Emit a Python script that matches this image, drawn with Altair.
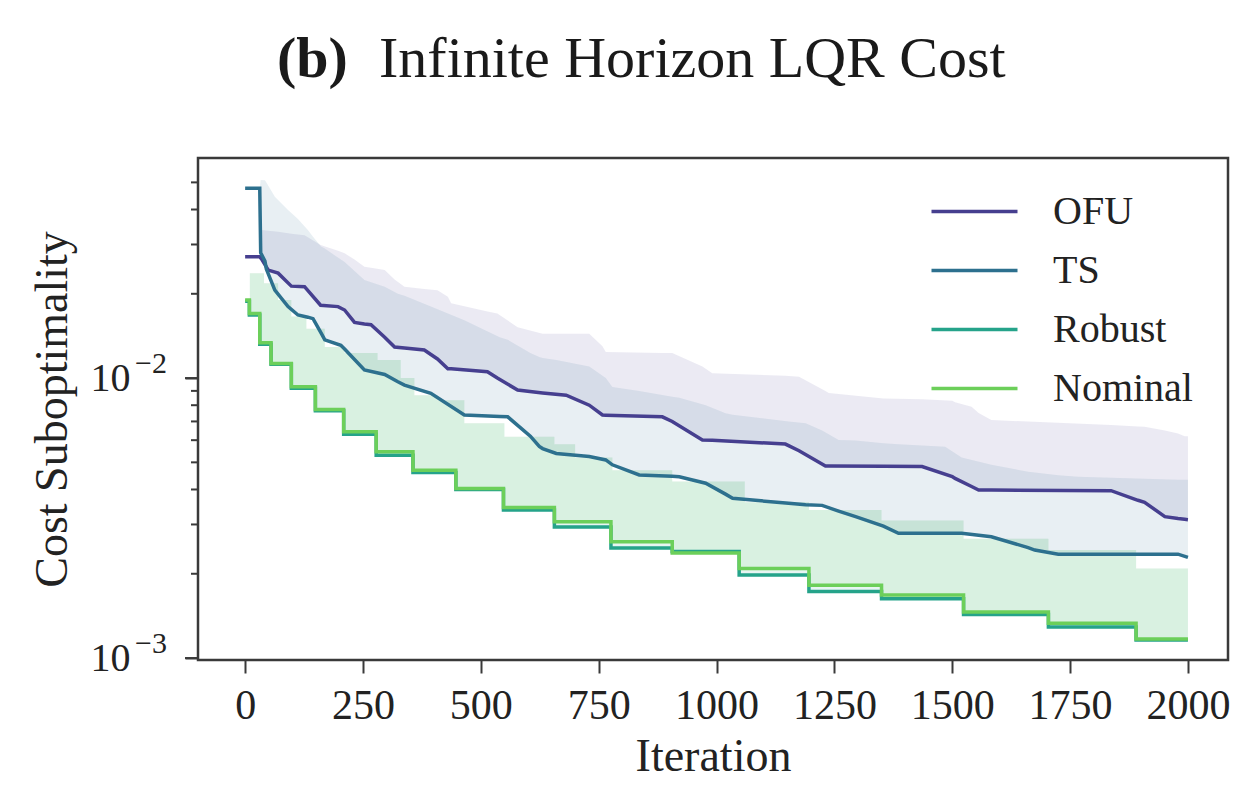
import altair as alt
import pandas as pd

# ---- series names and colours -------------------------------------------
METHODS = ["OFU", "TS", "Robust", "Nominal"]
COLORS = ["#463f8f", "#2d708e", "#25a38a", "#6ccf5a"]

# ---- OFU: median cost suboptimality and upper quantile -------------------
OFU_IT = [0, 31, 35, 49, 70, 98, 126, 160, 197, 211, 232, 253, 267, 296, 317,
          338, 380, 408, 430, 437, 514, 535, 578, 631, 681, 730, 758, 765, 885,
          906, 970, 991, 1146, 1175, 1231, 1238, 1354, 1436, 1500, 1506, 1541,
          1556, 1583, 1837, 1894, 1908, 1951, 1979, 1993, 2000]
OFU_MED = [0.0271, 0.0271, 0.0266, 0.0243, 0.0237, 0.0213, 0.0212, 0.0182,
           0.0180, 0.0175, 0.0158, 0.0156, 0.0155, 0.0140, 0.0129, 0.0128,
           0.0126, 0.0117, 0.0108, 0.0108, 0.01054, 0.0100, 0.00906, 0.00885,
           0.00869, 0.0080, 0.00738, 0.00737, 0.00727, 0.0070, 0.00601, 0.0060,
           0.00581, 0.0055, 0.00485, 0.00485, 0.00484, 0.00483, 0.00445,
           0.00438, 0.0041, 0.00398, 0.00398, 0.00396, 0.00366, 0.0036,
           0.0032, 0.00315, 0.00313, 0.00312]
OFU_HI = [0.0271, 0.0271, 0.0338, 0.0336, 0.0333, 0.0328, 0.0324, 0.0299,
          0.0285, 0.0279, 0.0265, 0.0250, 0.0248, 0.0243, 0.0225, 0.0212,
          0.0208, 0.0206, 0.0195, 0.0185, 0.0173, 0.0170, 0.0152, 0.0144,
          0.0144, 0.0144, 0.0130, 0.0124, 0.0123, 0.0123, 0.0110, 0.0104,
          0.0102, 0.0101, 0.0090, 0.00884, 0.00846, 0.0084, 0.0083, 0.0082,
          0.0079, 0.0075, 0.00708, 0.0068, 0.00672, 0.0067, 0.0065, 0.00634,
          0.0062, 0.0062]

# ---- TS: median cost suboptimality and upper quantile --------------------
TS_IT = [0, 31, 33, 42, 45, 63, 91, 112, 133, 144, 161, 169, 203, 211, 253,
         296, 324, 338, 394, 465, 540, 557, 605, 624, 631, 660, 730, 765, 779,
         836, 906, 921, 977, 1019, 1034, 1153, 1189, 1224, 1259, 1295, 1354,
         1386, 1485, 1520, 1583, 1661, 1675, 1725, 1767, 1979, 2000]
TS_MED = [0.0476, 0.0476, 0.0280, 0.0262, 0.0245, 0.0206, 0.0180, 0.0168,
          0.0165, 0.0163, 0.0145, 0.0137, 0.0131, 0.0127, 0.0107, 0.0103,
          0.0097, 0.00944, 0.00882, 0.00738, 0.00729, 0.00727, 0.0062, 0.0057,
          0.0056, 0.00538, 0.00525, 0.0051, 0.0049, 0.00451, 0.00446, 0.00444,
          0.00421, 0.00385, 0.00372, 0.00357, 0.00353, 0.00351, 0.00335,
          0.0032, 0.00296, 0.00279, 0.00279, 0.00279, 0.00271, 0.00248,
          0.00243, 0.00235, 0.00235, 0.00235, 0.00229]
TS_HI = [0.0476, 0.0476, 0.0510, 0.0509, 0.0500, 0.0444, 0.0398, 0.0370,
         0.0338, 0.0320, 0.0295, 0.0290, 0.0265, 0.0260, 0.0224, 0.0212,
         0.0200, 0.0197, 0.0180, 0.0161, 0.0140, 0.0137, 0.0123, 0.0119,
         0.0118, 0.0116, 0.0110, 0.0100, 0.0093, 0.0090, 0.00858, 0.0085,
         0.0080, 0.00748, 0.0074, 0.0070, 0.00689, 0.0065, 0.00601, 0.00598,
         0.00585, 0.0058, 0.00569, 0.0052, 0.0049, 0.00463, 0.0046, 0.0045,
         0.00444, 0.00433, 0.00433]

# ---- Robust / Nominal: piecewise-constant costs and shared upper quantile -
STEP_IT = [0, 9, 10, 31, 40, 55, 70, 98, 130, 149, 169, 209, 211, 278, 281,
           330, 356, 359, 408, 447, 465, 548, 550, 656, 700, 776, 779, 906,
           1048, 1060, 1196, 1350, 1524, 1704, 1890, 2000]
NOMINAL_MED = [0.0190, 0.0170, 0.0170, 0.01337, 0.01337, 0.01128, 0.01128,
               0.00931, 0.00931, 0.00773, 0.00773, 0.00643, 0.00643, 0.00546,
               0.00546, 0.00546, 0.00469, 0.00469, 0.00469, 0.00403, 0.00403,
               0.00345, 0.00345, 0.00307, 0.00307, 0.0026, 0.0026, 0.00237,
               0.00209, 0.00209, 0.00182, 0.00168, 0.00146, 0.00133, 0.00117,
               0.00117]
ROBUST_MED = [0.0188, 0.0168, 0.0168, 0.0132, 0.0132, 0.0112, 0.0112, 0.0092,
              0.0092, 0.00765, 0.00765, 0.0063, 0.0063, 0.0053, 0.0053, 0.0053,
              0.0046, 0.0046, 0.0046, 0.0040, 0.0040, 0.00338, 0.00338,
              0.00294, 0.00294, 0.00247, 0.00247, 0.0024, 0.00198, 0.00198,
              0.00173, 0.00163, 0.00143, 0.00129, 0.00116, 0.00116]
STEP_HI = [0.0190, 0.0190, 0.0237, 0.0237, 0.0218, 0.0218, 0.0190, 0.0166,
           0.0150, 0.0150, 0.0129, 0.0129, 0.0123, 0.0123, 0.0116, 0.0100,
           0.0100, 0.00869, 0.00834, 0.00834, 0.00689, 0.00689, 0.00617,
           0.0058, 0.0052, 0.0052, 0.00469, 0.00427, 0.00427, 0.0036, 0.00338,
           0.0031, 0.00267, 0.00243, 0.00209, 0.00209]

# ---- axis ticks -----------------------------------------------------------
X_TICKS = [0, 250, 500, 750, 1000, 1250, 1500, 1750, 2000]
Y_MAJOR = [0.001, 0.01]
Y_EXPONENTS = ["−3", "−2"]
Y_MINOR = [0.002, 0.003, 0.004, 0.005, 0.006, 0.007, 0.008, 0.009,
           0.02, 0.03, 0.04, 0.05]
TITLE_PARTS = ["(b)", "Infinite Horizon LQR Cost"]


def table(method, its, med, hi):
    return pd.DataFrame({"Iteration": its, "Cost": med, "Upper": hi,
                         "Method": method})


smooth = pd.concat([table("OFU", OFU_IT, OFU_MED, OFU_HI),
                    table("TS", TS_IT, TS_MED, TS_HI)])
steps = pd.concat([table("Robust", STEP_IT, ROBUST_MED, STEP_HI),
                   table("Nominal", STEP_IT, NOMINAL_MED, STEP_HI)])
exponents = pd.DataFrame({"Cost": Y_MAJOR, "Exp": Y_EXPONENTS})
major_ticks = pd.DataFrame({"Cost": Y_MAJOR})
minor_ticks = pd.DataFrame({"Cost": Y_MINOR})

FONT = "Liberation Serif"
INK = "#3a3a3a"
TEXT = "#222222"

x_scale = alt.Scale(domain=[-100, 2085], nice=False, zero=False)
y_scale = alt.Scale(type="log", domain=[0.000984, 0.0611], nice=False)

x_enc = alt.X("Iteration:Q", scale=x_scale,
              axis=alt.Axis(values=X_TICKS, title="Iteration", format="d",
                            labelFontSize=42, titleFontSize=46,
                            labelPadding=12, titlePadding=8, tickSize=13))

# decade labels with the mantissa "10" and the axis title
y_enc = alt.Y("Cost:Q", scale=y_scale,
              axis=alt.Axis(values=Y_MAJOR, title="Cost Suboptimality",
                            labelExpr="'10'", tickSize=13,
                            labelFontSize=40, titleFontSize=46,
                            labelPadding=55, titlePadding=14, orient="left"))

color = alt.Color("Method:N", scale=alt.Scale(domain=METHODS, range=COLORS),
                  legend=alt.Legend(title=None, orient="none", legendX=753,
                                    legendY=30, symbolType="M-2,0H2",
                                    symbolSize=1849, symbolStrokeWidth=3.5,
                                    labelFont=FONT, labelFontSize=40,
                                    labelColor=TEXT, labelOffset=55,
                                    rowPadding=15, labelLimit=0))

# shaded spread between each median and its upper quantile
bands = []
for name, col in zip(METHODS, COLORS):
    src = smooth if name in ("OFU", "TS") else steps
    interp = "linear" if name in ("OFU", "TS") else "step-after"
    bands.append(
        alt.Chart(src).transform_filter(alt.datum.Method == name)
        .mark_area(opacity=0.11, color=col, interpolate=interp)
        .encode(x=x_enc, y=y_enc, y2="Upper:Q")
    )

line_smooth = alt.Chart(smooth).mark_line(strokeWidth=3.5).encode(
    x=x_enc, y=y_enc, color=color)
line_steps = alt.Chart(steps).mark_line(strokeWidth=3.5, interpolate="step-after").encode(
    x=x_enc, y=y_enc, color=color)

# major and minor ticks of the log axis, just outside the frame
major = alt.Chart(major_ticks).mark_rule(color=INK, strokeWidth=2).encode(
    x=alt.value(-13), x2=alt.value(0), y=y_enc)
minor = alt.Chart(minor_ticks).mark_rule(color=INK, strokeWidth=2).encode(
    x=alt.value(-7), x2=alt.value(0), y=y_enc)

# raised exponents beside the "10" decade labels
exp_text = alt.Chart(exponents).mark_text(
    font=FONT, fontSize=30, align="right", baseline="middle", dy=-14,
    color=TEXT).encode(x=alt.value(-31), y=y_enc, text="Exp:N")

title_b = alt.Chart(alt.Data(values=[{"t": TITLE_PARTS[0]}])).mark_text(
    font=FONT, fontSize=58, fontWeight="bold", align="left",
    baseline="alphabetic", color="#1a1a1a").encode(
    text="t:N", x=alt.value(79), y=alt.value(-81))
title_main = alt.Chart(alt.Data(values=[{"t": TITLE_PARTS[1]}])).mark_text(
    font=FONT, fontSize=58, align="left", baseline="alphabetic",
    color="#1a1a1a").encode(
    text="t:N", x=alt.value(181), y=alt.value(-81))

chart = alt.layer(*bands, line_smooth, line_steps, major, minor, exp_text,
                  title_b, title_main).properties(
    width=1030, height=502,
    autosize=alt.AutoSizeParams(type="none"),
    padding={"left": 198, "top": 158, "right": 17, "bottom": 133},
    background="white",
).configure_view(
    stroke=INK, strokeWidth=2.5
).configure_axis(
    labelFont=FONT, titleFont=FONT, labelColor=TEXT, titleColor=TEXT,
    titleFontWeight="normal", tickColor=INK, tickWidth=2, domain=False,
    grid=False
)

chart.save("out.html", embed_options={"renderer": "svg", "actions": False})
